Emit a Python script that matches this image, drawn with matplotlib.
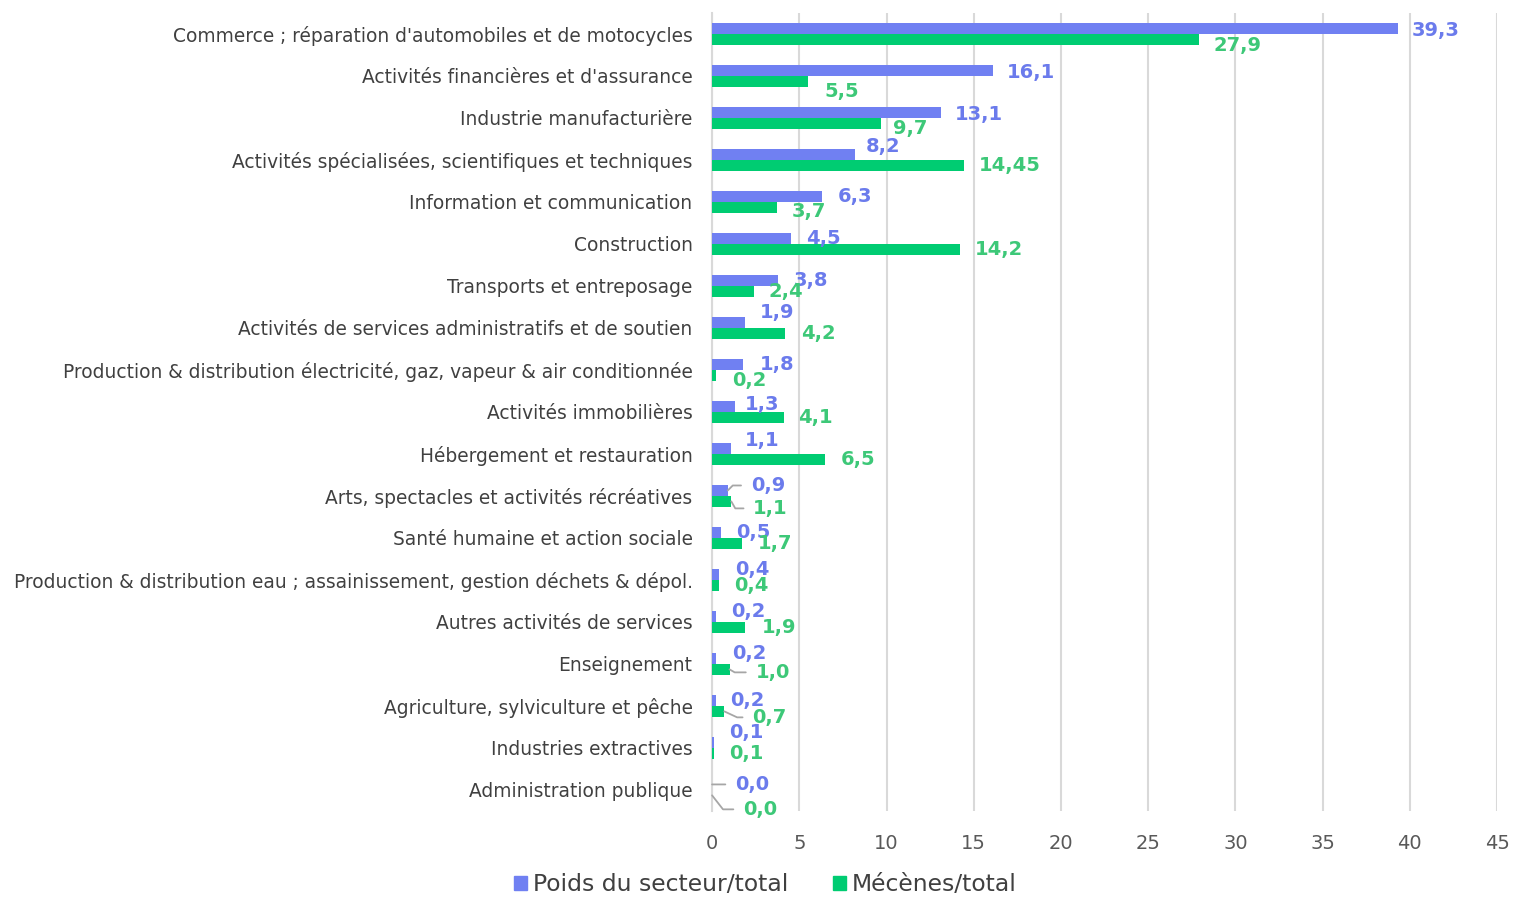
#!/usr/bin/env python3
"""
Poids du secteur vs part des mécènes, par secteur d'activité
"""

import matplotlib
matplotlib.use("Agg")
import matplotlib.pyplot as plt
from matplotlib.patches import Patch
import numpy as np

# données
categories = [
    "Commerce ; réparation d'automobiles et de motocycles",
    "Activités financières et d'assurance",
    "Industrie manufacturière",
    "Activités spécialisées, scientifiques et techniques",
    "Information et communication",
    "Construction",
    "Transports et entreposage",
    "Activités de services administratifs et de soutien",
    "Production & distribution électricité, gaz, vapeur & air conditionnée",
    "Activités immobilières",
    "Hébergement et restauration",
    "Arts, spectacles et activités récréatives",
    "Santé humaine et action sociale",
    "Production & distribution eau ; assainissement, gestion déchets & dépol.",
    "Autres activités de services",
    "Enseignement",
    "Agriculture, sylviculture et pêche",
    "Industries extractives",
    "Administration publique",
]
poids = [39.3, 16.1, 13.1, 8.2, 6.3, 4.5, 3.8, 1.9, 1.8, 1.3, 1.1,
         0.9, 0.5, 0.4, 0.2, 0.2, 0.2, 0.1, 0.0]
mecenes = [27.9, 5.5, 9.7, 14.45, 3.7, 14.2, 2.4, 4.2, 0.2, 4.1, 6.5,
           1.1, 1.7, 0.4, 1.9, 1.0, 0.7, 0.1, 0.0]
poids_labels = ["39,3", "16,1", "13,1", "8,2", "6,3", "4,5", "3,8", "1,9", "1,8",
                "1,3", "1,1", "0,9", "0,5", "0,4", "0,2", "0,2", "0,2", "0,1", "0,0"]
mecenes_labels = ["27,9", "5,5", "9,7", "14,45", "3,7", "14,2", "2,4", "4,2", "0,2",
                  "4,1", "6,5", "1,1", "1,7", "0,4", "1,9", "1,0", "0,7", "0,1", "0,0"]
x_ticks = [0, 5, 10, 15, 20, 25, 30, 35, 40, 45]

# placement manuel des étiquettes (pixels : décalage depuis le bout de la barre)
dx_poids = [14, 14, 14, 11, 16, 15, 15, 15, 16, 10, 14, 23, 15, 16, 16, 17, 15, 15, 23]
dy_poids = [2, 2, 2, -8, 0, 0, 0, -10, 0, -2, -8, -5, 0, -5, -5, -5, 0, -10, 0]
dx_mec = [15, 16, 12, 15, 15, 15, 15, 16, 17, 14, 15, 22, 16, 15, 17, 26, 28, 15, 31]
dy_mec = [6, 10, 5, 0, 4, 0, 0, 0, 5, 0, 0, 7, 0, 0, 0, 3, 6, 0, 14]
# lignes de rappel : index -> angle
leader_poids = {11: 45, 18: None}
leader_mec = {11: -60, 15: -30, 16: -25, 18: -52}

BLUE = "#7080F2"
GREEN = "#00CC72"
BLUE_TXT = "#6B7BEC"
GREEN_TXT = "#3DC878"


def add_labels(ax, y, values, texts, dxs, dys, leaders, color):
    for i, (v, t) in enumerate(zip(values, texts)):
        kw = dict(textcoords="offset pixels", ha="left", va="center",
                  fontsize=14, fontweight="bold", color=color)
        if i in leaders:
            ang = leaders[i]
            cs = "arc3" if ang is None else f"angle,angleA=0,angleB={ang},rad=0"
            kw["arrowprops"] = dict(arrowstyle="-", color="#A6A6A6", lw=1.3,
                                    relpos=(0, 0.5), shrinkA=5, shrinkB=0,
                                    connectionstyle=cs)
        ax.annotate(t, xy=(v, y[i]), xytext=(dxs[i], -dys[i]), **kw)


def main():
    fig = plt.figure(figsize=(15.16, 8.97), dpi=100)
    ax = fig.add_axes([0.4697, 0.096, 0.5178, 0.8895])

    n = len(categories)
    y = np.arange(n)
    h = 0.26
    ax.barh(y - h / 2, poids, height=h, color=BLUE, zorder=3)
    ax.barh(y + h / 2, mecenes, height=h, color=GREEN, zorder=3)

    ax.set_ylim(n - 0.5, -0.5)
    ax.set_xlim(0, 45)
    ax.set_xticks(x_ticks)
    ax.set_yticks(y)
    ax.set_yticklabels(categories, fontsize=13.4, color="#404040")
    ax.tick_params(axis="y", length=0, pad=14)
    ax.tick_params(axis="x", length=0, pad=17, labelsize=14, labelcolor="#595959")

    ax.grid(axis="x", color="#D9D9D9", lw=1.5, zorder=0)
    for s in ["top", "right", "bottom"]:
        ax.spines[s].set_visible(False)
    ax.spines["left"].set_color("#D9D9D9")
    ax.spines["left"].set_linewidth(1.5)

    add_labels(ax, y - h / 2, poids, poids_labels, dx_poids, dy_poids, leader_poids, BLUE_TXT)
    add_labels(ax, y + h / 2, mecenes, mecenes_labels, dx_mec, dy_mec, leader_mec, GREEN_TXT)

    handles = [Patch(color=BLUE, label="Poids du secteur/total"),
               Patch(color=GREEN, label="Mécènes/total")]
    fig.legend(handles=handles, loc="center", bbox_to_anchor=(0.505, 0.0134),
               ncol=2, frameon=False, fontsize=16.9, handlelength=0.55,
               handleheight=0.55, handletextpad=0.25, columnspacing=1.9,
               labelcolor="#404040", borderpad=0)

    fig.savefig("out.png", dpi=100)


if __name__ == "__main__":
    main()
